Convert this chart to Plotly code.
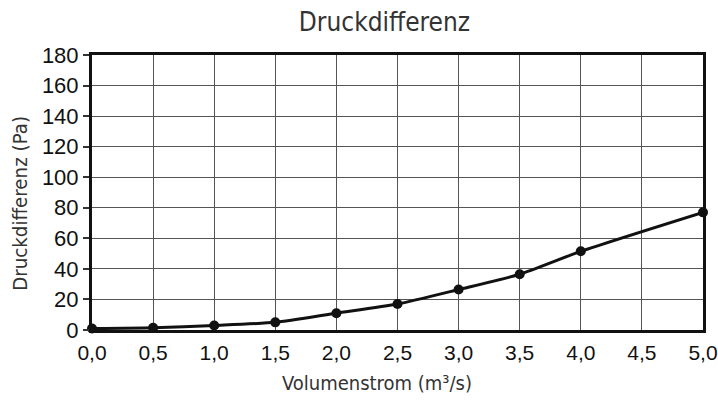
import plotly.graph_objects as go

volumenstrom = [0.0, 0.5, 1.0, 1.5, 2.0, 2.5, 3.0, 3.5, 4.0, 5.0]
druckdifferenz = [1, 1.5, 3, 5, 11, 17, 26.5, 36.5, 51.5, 77]
x_ticks = [0.0, 0.5, 1.0, 1.5, 2.0, 2.5, 3.0, 3.5, 4.0, 4.5, 5.0]
x_labels = ["0,0", "0,5", "1,0", "1,5", "2,0", "2,5", "3,0", "3,5", "4,0", "4,5", "5,0"]
y_ticks = [0, 20, 40, 60, 80, 100, 120, 140, 160, 180]

tickfam = "Liberation Sans"
cond = "DejaVu Sans Condensed"

fig = go.Figure()
fig.add_trace(go.Scatter(
    x=volumenstrom, y=druckdifferenz, mode="lines+markers",
    line=dict(color="#111111", width=3, shape="spline", smoothing=0.6),
    marker=dict(color="#111111", size=10),
    cliponaxis=False, showlegend=False,
))

fig.update_layout(
    width=718, height=400,
    margin=dict(l=92, r=15, t=55, b=70),
    paper_bgcolor="white", plot_bgcolor="white",
    title=dict(text="Druckdifferenz", x=0.5355, xanchor="center", y=0.946, yanchor="middle",
               font=dict(family=cond, size=26, color="#333333")),
    xaxis=dict(
        range=[0, 5], tickvals=x_ticks, ticktext=x_labels,
        showgrid=True, gridcolor="#555555", gridwidth=1.2,
        showline=True, linecolor="#111111", linewidth=3, mirror=True,
        ticks="", zeroline=False, automargin=False, ticklabeloverflow="allow",
        ticklabelstandoff=2,
        tickfont=dict(family=tickfam, size=21, color="#111111"),
    ),
    yaxis=dict(
        range=[0, 180], tickvals=y_ticks,
        showgrid=True, gridcolor="#555555", gridwidth=1.2,
        showline=True, linecolor="#111111", linewidth=3, mirror=True,
        ticks="outside", ticklen=6, tickcolor="#333333", tickwidth=1.5,
        zeroline=False, automargin=False,
        tickfont=dict(family=tickfam, size=22, color="#111111"),
    ),
    annotations=[
        dict(text="Volumenstrom (m³/s)", xref="paper", yref="paper",
             x=0.466, y=-0.193, xanchor="center", yanchor="middle", showarrow=False,
             font=dict(family=cond, size=20, color="#333333")),
        dict(text="Druckdifferenz (Pa)", xref="paper", yref="paper", textangle=-90,
             x=-0.118, y=0.462, xanchor="center", yanchor="middle", showarrow=False,
             font=dict(family=cond, size=20.3, color="#333333")),
    ],
)

fig.write_html("out.html",
               config={"displayModeBar": False},
               post_script="document.body.style.margin='0px';document.body.style.overflow='hidden';")
